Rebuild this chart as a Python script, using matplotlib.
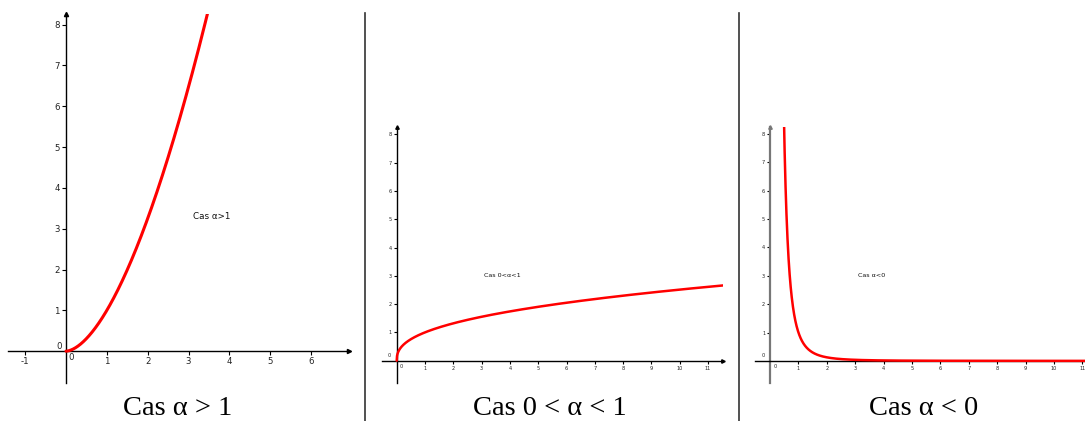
import numpy as np
import matplotlib
matplotlib.use("Agg")
import matplotlib.pyplot as plt

plt.rcParams["axes.unicode_minus"] = False

W, H = 1085, 421

# Data: exponents of the power functions x**alpha in each panel
alphas = [1.7, 0.4, -3.0]
inner_labels = ["Cas α>1", "Cas 0<α<1", "Cas α<0"]
captions = ["Cas α > 1", "Cas 0 < α < 1", "Cas α < 0"]
xticks_list = [[-1, 1, 2, 3, 4, 5, 6],
               [1, 2, 3, 4, 5, 6, 7, 8, 9, 10, 11],
               [1, 2, 3, 4, 5, 6, 7, 8, 9, 10, 11]]
yticks_list = [[1, 2, 3, 4, 5, 6, 7, 8]] * 3

# Layout (pixels) and view windows
panels = [
    dict(px=(8, 14, 349, 383), xlim=(-1.42, 6.93), ylim=(-0.78, 8.26),
         fs=6.2, lfs=6.3, lw=2.2, yaxis_col="black", yaxis_lw=1.0,
         tl=3.0, label_pos=(3.1, 3.3), xstart=0.0, arrow_x=True),
    dict(px=(381.7, 126.7, 723, 383.3), xlim=(-0.53, 11.53), ylim=(-0.8, 8.27),
         fs=3.6, lfs=4.6, lw=1.8, yaxis_col="black", yaxis_lw=1.0,
         tl=2.0, label_pos=(3.1, 3.0), xstart=0.0, arrow_x=True),
    dict(px=(755, 127, 1085, 383), xlim=(-0.53, 11.09), ylim=(-0.78, 8.25),
         fs=3.6, lfs=4.6, lw=1.8, yaxis_col="#777777", yaxis_lw=1.6,
         tl=2.0, label_pos=(3.1, 3.0), xstart=0.45, arrow_x=False),
]

fig = plt.figure(figsize=(W / 100, H / 100), dpi=100)
fig.patch.set_facecolor("white")

for i, p in enumerate(panels):
    x0, y0, x1, y1 = p["px"]
    ax = fig.add_axes([x0 / W, (H - y1) / H, (x1 - x0) / W, (y1 - y0) / H])
    ax.set_facecolor("none")
    ax.set_xlim(*p["xlim"])
    ax.set_ylim(*p["ylim"])
    for s in ("top", "right"):
        ax.spines[s].set_visible(False)
    ax.spines["left"].set_position(("data", 0))
    ax.spines["bottom"].set_position(("data", 0))
    ax.spines["bottom"].set_linewidth(1.0)
    ax.spines["left"].set_linewidth(p["yaxis_lw"])
    ax.spines["left"].set_color(p["yaxis_col"])
    ax.set_xticks(xticks_list[i])
    ax.set_yticks(yticks_list[i])
    ax.tick_params(direction="out", length=p["tl"], width=0.8, labelsize=p["fs"],
                   pad=1.5, colors="black", labelcolor="#222222")
    # origin labels
    ax.annotate("0", (0, 0), xytext=(5, -6), textcoords="offset pixels",
                fontsize=p["fs"], ha="center", va="center", color="#222222")
    ax.annotate("0", (0, 0), xytext=(-7, 5), textcoords="offset pixels",
                fontsize=p["fs"], ha="center", va="center", color="#222222")
    # arrows
    ax.plot(0, 1, marker="^", color=p["yaxis_col"], markersize=3 if i == 0 else 2.5,
            transform=ax.get_xaxis_transform(), clip_on=False)
    if p["arrow_x"]:
        ax.plot(1, 0, marker=">", color="black", markersize=3 if i == 0 else 2.5,
                transform=ax.get_yaxis_transform(), clip_on=False)
    # curve
    x = np.linspace(p["xstart"], p["xlim"][1], 2000)
    if alphas[i] < 0:
        x = x[x > 0]
    y = x ** alphas[i]
    ax.plot(x, y, color="#ff0000", lw=p["lw"], solid_capstyle="round", zorder=3)
    ax.text(*p["label_pos"], inner_labels[i], fontsize=p["lfs"], ha="left", va="center",
            color="#111111")

# separators
for sx in (365, 739):
    fig.add_artist(plt.Line2D([sx / W, sx / W], [0, (H - 13) / H], color="#333333",
                              lw=1.2, transform=fig.transFigure))

# captions
for cx, cap in zip((177.5, 550, 924), captions):
    fig.text(cx / W, 6 / H, cap, ha="center", va="baseline", fontsize=20.5,
             family="Liberation Serif", color="black")

fig.savefig("out.png", dpi=100, facecolor="white")
